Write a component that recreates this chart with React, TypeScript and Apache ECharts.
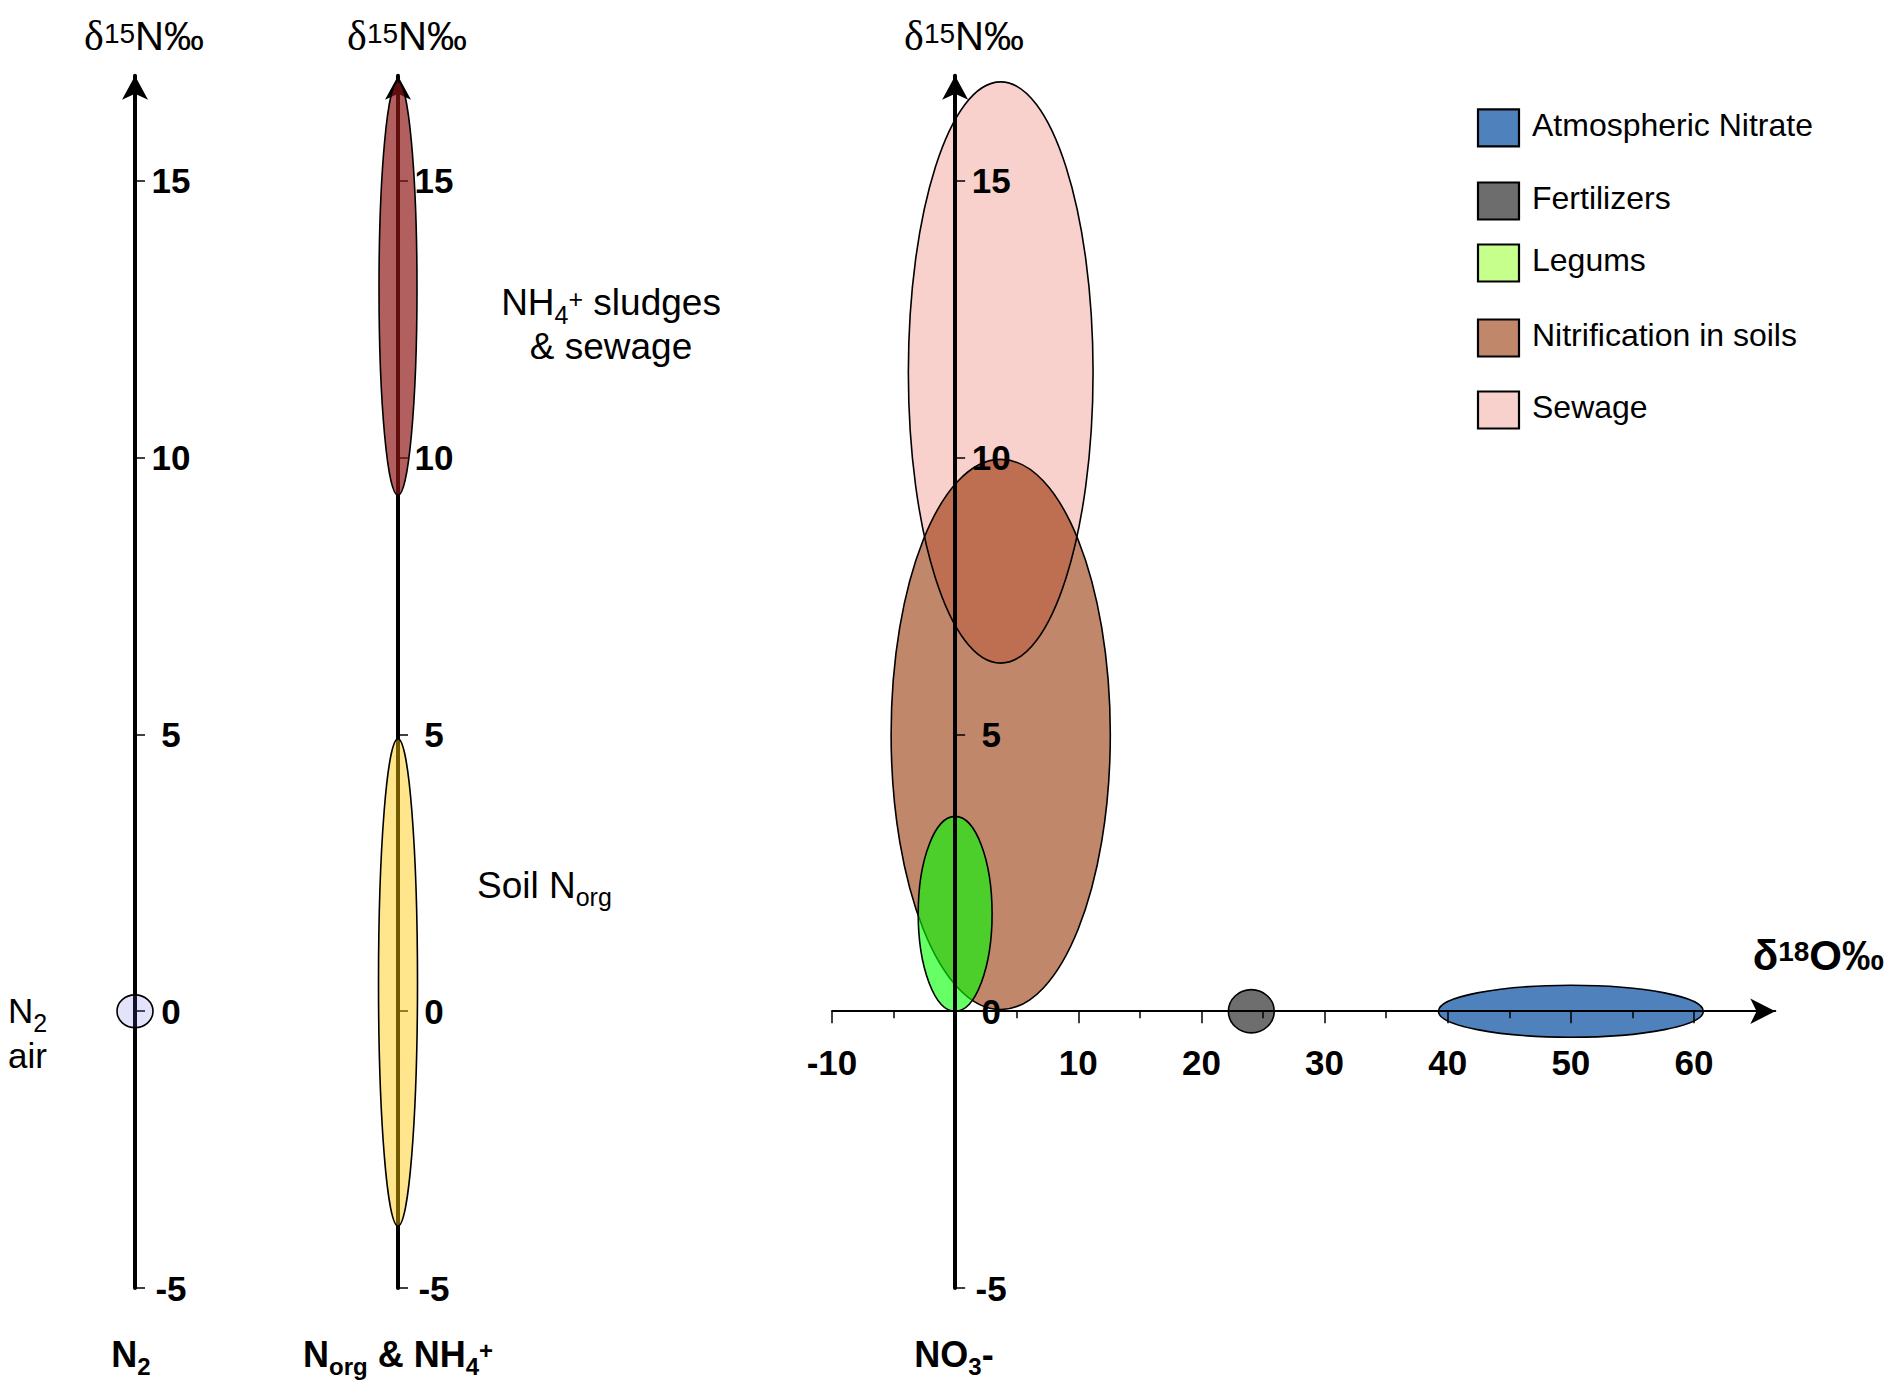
import React, { useEffect, useRef } from 'react';
import * as echarts from 'echarts';

// ---------------- data ----------------
const yTickValues = [-5, 0, 5, 10, 15];
const xTickValues = [-10, 0, 10, 20, 30, 40, 50, 60];
const xMinorTickValues = [-5, 5, 15, 25, 35, 45, 55];
const xLabelValues = [-10, 10, 20, 30, 40, 50, 60];

// Panel 1 : N2 (air)
const n2Names = ['N2 air'];
const n2D15N = [0];
const n2D15NHalf = [0.295];
const n2HalfWidth = [0.18];

// Panel 2 : Norg & NH4+
const norgNames = ['NH4+ sludges & sewage', 'Soil Norg'];
const norgD15N = [13.06, 0.52];
const norgD15NHalf = [3.74, 4.4];
const norgHalfWidth = [0.19, 0.195];

// Panel 3 : NO3- sources (d18O vs d15N)
const sourceNames = ['Atmospheric Nitrate', 'Fertilizers', 'Legums', 'Nitrification in soils', 'Sewage'];
const sourceD18O = [50, 24.05, 0, 3.7, 3.7];
const sourceD18OHalf = [10.75, 1.86, 3.0, 8.9, 7.5];
const sourceD15N = [0, 0, 1.76, 5.0, 11.54];
const sourceD15NHalf = [0.47, 0.39, 1.76, 4.97, 5.25];

// ---------------- styles ----------------
const FONT = '"Liberation Sans", Arial, Helvetica, sans-serif';
const SERIF = '"Liberation Serif", "Times New Roman", serif';
const n2Fill = ['rgba(100,100,232,0.18)'];
const norgFill = ['rgba(140,19,19,0.68)', 'rgba(255,198,0,0.45)'];
const sourceFill = ['#4F81BD', '#6E6E6E', 'rgba(0,255,0,0.6)', '#C1876B', '#F9D1CC'];
const legendFill = ['#4F81BD', '#6D6D6D', '#C6FF8C', '#C1876B', '#F9D1CC'];
const overlapFill = '#BE6F52';

const Y_MIN = -5;
const Y_MAX = 16.9;
const X_MIN = -10;
const X_MAX = 66.6;
const GRID_TOP = 75.8;
const GRID_HEIGHT = 1212.2;
const AXIS_X = [135, 398, 955];
const P3_LEFT = 832;
const P3_WIDTH = 943.3;

function ellipseRender(fills: string[] | null, stroke: string | null, lineWidth: number) {
  return (params: any, api: any) => {
    const cx = api.value(0);
    const cy = api.value(1);
    const hx = api.value(2);
    const hy = api.value(3);
    const k = api.value(4);
    const c = api.coord([cx, cy]);
    const p = api.coord([cx + hx, cy + hy]);
    return {
      type: 'ellipse',
      shape: { cx: c[0], cy: c[1], rx: Math.abs(p[0] - c[0]), ry: Math.abs(c[1] - p[1]) },
      style: {
        fill: fills ? fills[k] : 'none',
        stroke: stroke || 'none',
        lineWidth,
      },
    };
  };
}

function insideSource(x: number, y: number, k: number) {
  const dx = (x - sourceD18O[k]) / sourceD18OHalf[k];
  const dy = (y - sourceD15N[k]) / sourceD15NHalf[k];
  return dx * dx + dy * dy <= 1;
}

function overlapRender(params: any, api: any) {
  const a = api.value(0);
  const b = api.value(1);
  const pts: number[][] = [];
  const N = 720;
  for (let i = 0; i < N; i++) {
    const t = (i / N) * Math.PI * 2;
    const pairs = [[a, b], [b, a]];
    for (const [p, q] of pairs) {
      const x = sourceD18O[p] + sourceD18OHalf[p] * Math.cos(t);
      const y = sourceD15N[p] + sourceD15NHalf[p] * Math.sin(t);
      if (insideSource(x, y, q)) pts.push(api.coord([x, y]));
    }
  }
  if (pts.length < 3) return null;
  let mx = 0;
  let my = 0;
  pts.forEach((p) => { mx += p[0]; my += p[1]; });
  mx /= pts.length;
  my /= pts.length;
  pts.sort((u, v) => Math.atan2(u[1] - my, u[0] - mx) - Math.atan2(v[1] - my, v[0] - mx));
  return { type: 'polygon', shape: { points: pts }, style: { fill: overlapFill } };
}

function rich(size: number, weight: string, lh = 44, sub = 24) {
  const base = { fontFamily: FONT, fontWeight: weight, fill: '#000' };
  return {
    m: { ...base, fontSize: size, lineHeight: lh },
    d: { ...base, fontFamily: SERIF, fontSize: size + 2, lineHeight: lh },
    sub: { ...base, fontSize: sub, height: sub * 0.8, verticalAlign: 'bottom' },
    sup: { ...base, fontSize: sub, height: sub * 1.5, verticalAlign: 'top' },
  };
}

function textEl(x: number, y: number, text: string, size: number, weight: string, align: string, lh = 44, sub = 24) {
  return {
    type: 'text',
    x,
    y,
    silent: true,
    style: { text, rich: rich(size, weight, lh, sub), align, verticalAlign: 'middle', fontFamily: FONT, fontSize: size, fill: '#000' },
  };
}

const tickLabelStyle = { fontSize: 35, fontWeight: 'bold', color: '#000', fontFamily: FONT };

function yAxisFor(gridIndex: number, z: number, offset: number) {
  return {
    type: 'value',
    gridIndex,
    position: 'left',
    offset,
    min: Y_MIN,
    max: Y_MAX,
    z,
    axisLine: {
      show: true,
      onZero: false,
      symbol: ['none', 'arrow'],
      symbolSize: [19.5, 24],
      lineStyle: { color: '#000', width: 4 },
    },
    axisTick: { show: true, inside: true, length: 10, customValues: yTickValues, lineStyle: { color: '#000', width: 1.5 } },
    axisLabel: { show: true, inside: true, align: 'center', margin: 36, customValues: yTickValues, ...tickLabelStyle },
    splitLine: { show: false },
  };
}

function hiddenX(gridIndex: number) {
  return { type: 'value', gridIndex, min: 0, max: 1, show: false, axisLine: { onZero: false }, splitLine: { show: false } };
}

const legendY = [127.8, 201, 263, 338, 410];

export default function App() {
  const ref = useRef<HTMLDivElement>(null);
  useEffect(() => {
    document.body.style.margin = '0';
    const chart = echarts.init(ref.current as HTMLDivElement, null, { renderer: 'svg' });

    const gridBase = { top: GRID_TOP, height: GRID_HEIGHT, containLabel: false, outerBoundsMode: 'none' };
    const pxPerY = GRID_HEIGHT / (Y_MAX - Y_MIN);
    const pxPerX = P3_WIDTH / (X_MAX - X_MIN);
    const xAxisOffset = -(0 - Y_MIN) * pxPerY; // move x axis up to d15N = 0
    const yAxisOffset = -(0 - X_MIN) * pxPerX; // move y axis right to d18O = 0

    const graphics: any[] = [];
    // axis titles
    AXIS_X.forEach((ax) => {
      graphics.push(textEl(ax + 9, 36, '{d|δ}{sup|15}{m|N‰}', 40, 'normal', 'center', 48, 28));
    });
    graphics.push(textEl(1884, 955, '{m|δ}{sup|18}{m|O‰}', 42, 'bold', 'right', 50, 28));
    // category labels
    graphics.push(textEl(131, 1354, '{m|N}{sub|2}', 36, 'bold', 'center'));
    graphics.push(textEl(398, 1354, '{m|N}{sub|org}{m| & NH}{sub|4}{sup|+}', 36, 'bold', 'center'));
    graphics.push(textEl(954, 1354, '{m|NO}{sub|3}{m|-}', 36, 'bold', 'center'));
    // annotations
    graphics.push(textEl(611, 324.5, '{m|NH}{sub|4}{sup|+}{m| sludges}\n{m|& sewage}', 37, 'normal', 'center', 44, 25));
    graphics.push(textEl(477, 885, '{m|Soil N}{sub|org}', 37, 'normal', 'left', 44, 25));
    graphics.push(textEl(8, 1033, '{m|N}{sub|2}\n{m|air}', 35, 'normal', 'left', 45, 25));
    // legend
    sourceNames.forEach((name, i) => {
      graphics.push({
        type: 'rect',
        x: 1478,
        y: legendY[i] - 18.5,
        silent: true,
        shape: { x: 0, y: 0, width: 41, height: 37 },
        style: { fill: legendFill[i], stroke: '#000', lineWidth: 2.2 },
      });
      graphics.push({
        type: 'text',
        x: 1532,
        y: legendY[i] - 3,
        silent: true,
        style: { text: name, fontSize: 32, fontFamily: FONT, fill: '#000', align: 'left', verticalAlign: 'middle' },
      });
    });

    const srcItem = (k: number) => [sourceD18O[k], sourceD15N[k], sourceD18OHalf[k], sourceD15NHalf[k], k];
    const sewageIdx = sourceNames.indexOf('Sewage');
    const nitriIdx = sourceNames.indexOf('Nitrification in soils');
    const otherIdx = [2, 1, 0];

    const option: any = {
      animation: false,
      backgroundColor: '#fff',
      textStyle: { fontFamily: FONT },
      grid: [
        { ...gridBase, left: AXIS_X[0], width: 100 },
        { ...gridBase, left: AXIS_X[1], width: 100 },
        { ...gridBase, left: P3_LEFT, width: P3_WIDTH },
      ],
      xAxis: [
        hiddenX(0),
        hiddenX(1),
        {
          type: 'value',
          gridIndex: 2,
          position: 'bottom',
          offset: xAxisOffset,
          min: X_MIN,
          max: X_MAX,
          z: 10,
          axisLine: {
            show: true,
            onZero: false,
            symbol: ['none', 'arrow'],
            symbolSize: [19, 25],
            lineStyle: { color: '#000', width: 2 },
          },
          axisTick: { show: true, length: 12, customValues: xTickValues, lineStyle: { color: '#000', width: 1.5 } },
          axisLabel: { show: true, margin: 34, customValues: xLabelValues, ...tickLabelStyle },
          splitLine: { show: false },
        },
        {
          type: 'value',
          gridIndex: 2,
          position: 'bottom',
          offset: xAxisOffset,
          min: X_MIN,
          max: X_MAX,
          z: 10,
          axisLine: { show: false, onZero: false },
          axisTick: { show: true, length: 7, customValues: xMinorTickValues, lineStyle: { color: '#000', width: 1.5 } },
          axisLabel: { show: false },
          splitLine: { show: false },
        },
      ],
      yAxis: [yAxisFor(0, 0, 0), yAxisFor(1, 0, 0), yAxisFor(2, 10, yAxisOffset)],
      graphic: graphics,
      series: [
        {
          type: 'custom',
          name: 'N2',
          xAxisIndex: 0,
          yAxisIndex: 0,
          z: 2,
          clip: false,
          silent: true,
          renderItem: ellipseRender(n2Fill, '#000', 1.6),
          data: n2Names.map((_, i) => [0, n2D15N[i], n2HalfWidth[i], n2D15NHalf[i], i]),
        },
        {
          type: 'custom',
          name: 'Norg',
          xAxisIndex: 1,
          yAxisIndex: 1,
          z: 2,
          clip: false,
          silent: true,
          renderItem: ellipseRender(norgFill, '#000', 1.6),
          data: norgNames.map((_, i) => [0, norgD15N[i], norgHalfWidth[i], norgD15NHalf[i], i]),
        },
        {
          type: 'custom',
          name: 'fills',
          xAxisIndex: 2,
          yAxisIndex: 2,
          z: 1,
          silent: true,
          renderItem: ellipseRender(sourceFill, null, 0),
          data: [srcItem(sewageIdx), srcItem(nitriIdx)],
        },
        {
          type: 'custom',
          name: 'overlap',
          xAxisIndex: 2,
          yAxisIndex: 2,
          z: 2,
          silent: true,
          renderItem: overlapRender,
          data: [[sewageIdx, nitriIdx]],
        },
        {
          type: 'custom',
          name: 'outlines',
          xAxisIndex: 2,
          yAxisIndex: 2,
          z: 3,
          silent: true,
          renderItem: ellipseRender(null, '#000', 1.6),
          data: [srcItem(sewageIdx), srcItem(nitriIdx)],
        },
        {
          type: 'custom',
          name: 'others',
          xAxisIndex: 2,
          yAxisIndex: 2,
          z: 4,
          silent: true,
          renderItem: ellipseRender(sourceFill, '#000', 1.6),
          data: otherIdx.map((k) => srcItem(k)),
        },
      ],
    };
    chart.setOption(option);
    return () => chart.dispose();
  }, []);
  return <div ref={ref} style={{ width: 1893, height: 1390 }} />;
}
